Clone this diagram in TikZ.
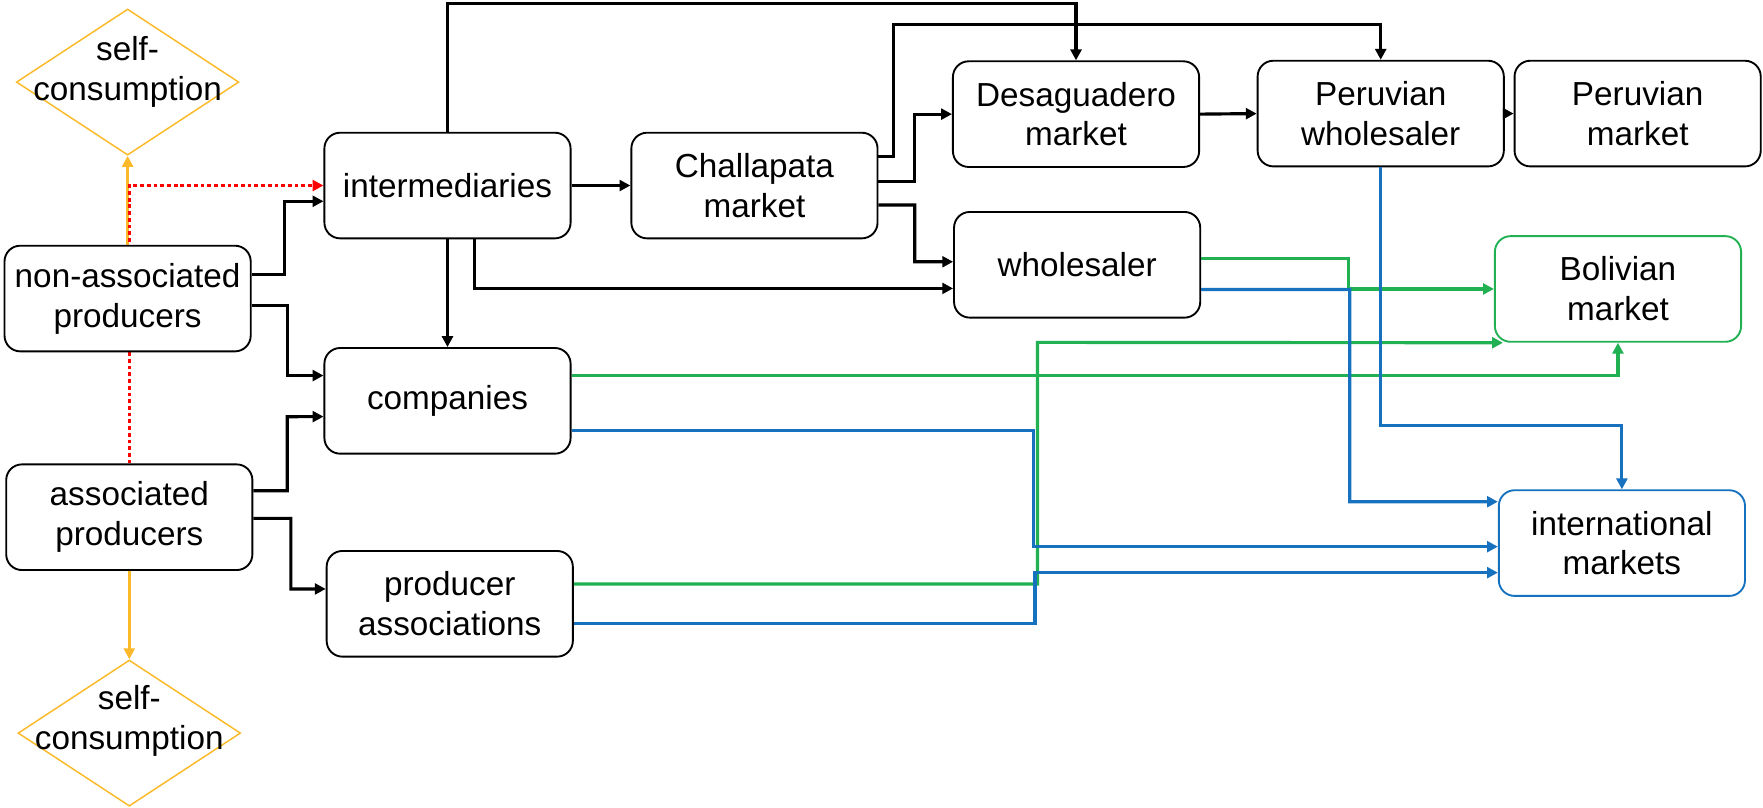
\documentclass[tikz,border=0pt]{standalone}
\usepackage{fontspec}
\setmainfont{Liberation Sans}
\usetikzlibrary{arrows.meta,shapes.geometric,calc}
\definecolor{ora}{RGB}{252,186,43}
\definecolor{grn}{RGB}{33,177,82}
\definecolor{blu}{RGB}{22,113,191}
\definecolor{rd}{RGB}{255,0,0}
\pgfdeclarelayer{bg}
\pgfsetlayers{bg,main}
\begin{document}
\begin{tikzpicture}[x=0.02cm,y=-0.02cm,
  txt/.style={font=\fontsize{16.85}{20.2}\selectfont, align=center, inner sep=0pt},
  box/.style={txt, draw=black, line width=0.95pt, rounded corners=0.28cm, fill=white,
              minimum width=4.38cm, minimum height=1.88cm},
  selfc/.style={draw=ora, line width=0.75pt, diamond, inner sep=0pt,
              minimum width=3.96cm, minimum height=2.6cm},
  tip/.style={-{Triangle[length=5.5pt,width=5.5pt]}},
  blk/.style={tip, draw=black, line width=1.6pt},
  grnl/.style={tip, draw=grn, line width=1.6pt},
  blul/.style={tip, draw=blu, line width=1.6pt},
  oral/.style={tip, draw=ora, line width=1.5pt},
  reddot/.style={tip, draw=rd, line width=1.4pt, dash pattern=on 1.9pt off 1.5pt}]
\useasboundingbox (0,0) rectangle (1568,718);

% diamonds
\node[selfc] (dtop) at (113.5,73) {};
\node[selfc] (dbot) at (115,652) {};
\node[txt] (dtopt) at ($(dtop)+(0,-9)$) {self-\\consumption};
\node[txt] (dbott) at ($(dbot)+(0,-11)$) {self-\\consumption};

% boxes
\node[box] (nonassoc) at (113.5,265.5) {non-associated\\producers};
\node[box] (assoc) at (115,460) {associated\\producers};
\node[box] (interm) at (398,165) {intermediaries};
\node[box] (comp) at (398,356.5) {companies};
\node[box] (pa) at (400,537) {producer\\associations};
\node[box] (chal) at (671,165) {Challapata\\market};
\node[box] (desag) at (957,101.5) {Desaguadero\\market};
\node[box] (whole) at (958,235.5) {wholesaler};
\node[box] (perwh) at (1228,101) {Peruvian\\wholesaler};
\node[box] (permkt) at (1456.5,101) {Peruvian\\market};
\node[box, draw=grn] (bol) at (1439,257) {Bolivian\\market};
\node[box, draw=blu] (intl) at (1442.5,483) {international\\markets};

% connectors behind boxes
\begin{pgfonlayer}{bg}
\draw[oral] (nonassoc.north) -- (dtop.south);
\draw[oral] (assoc.south) -- (dbot.north);
\draw[reddot] (assoc.north) |- (interm.west);
\end{pgfonlayer}

% black connectors
\draw[blk] (interm.east) -- (chal.west);
\draw[blk] ($(nonassoc.east)+(0,-21)$) -| (253,179) -- ($(interm.west)+(0,14)$);
\draw[blk] ($(nonassoc.east)+(0,6.5)$) -| (255.5,334) -- ($(comp.west)+(0,-22.5)$);
\draw[blk] ($(assoc.east)+(0,-23.5)$) -| (255.5,370.6) -- ($(comp.west)+(0,14)$);
\draw[blk] ($(assoc.east)+(0,1)$) -| (258.7,523.8) -- ($(pa.west)+(0,-13.2)$);
\draw[blk] (interm.south) -- (comp.north);
\draw[blk] (interm.north) |- (957,3) -- (desag.north);
\draw[blk] ($(interm.south)+(24,0)$) |- ($(whole.west)+(0,21)$);
\draw[blk] ($(chal.east)+(0,-25.6)$) -| (795,22) -| (perwh.north);
\draw[blk] ($(chal.east)+(0,-3.4)$) -| (813,101.5) -- (desag.west);
\draw[blk] ($(chal.east)+(0,17.3)$) -| (813.6,232.8) -- ($(whole.west)+(0,-2.7)$);
\draw[blk] (desag.east) -- (perwh.west);
\draw[blk] (perwh.east) -- (permkt.west);

% green connectors
\draw[grnl] ($(whole.east)+(0,-5.7)$) -| (1199,257) -- (bol.west);
\draw[grnl] ($(comp.east)+(0,-22.5)$) -| (bol.south);
\draw[grnl] ($(pa.east)+(0,-17.6)$) -| (922.8,304.5) -- ($(bol.south west)+(8,0)$);

% blue connectors
\draw[blul] ($(whole.east)+(0,22)$) -| (1200.5,446.2) -- ($(intl.west)+(0,-36.8)$);
\draw[blul] (perwh.south) |- ($(intl.north)+(0,-57)$) -- (intl.north);
\draw[blul] ($(comp.east)+(0,26)$) -| (919.3,486.2) -- ($(intl.west)+(0,3.2)$);
\draw[blul] ($(pa.east)+(0,17.4)$) -| (920.5,509.3) -- ($(intl.west)+(0,26.3)$);
\end{tikzpicture}
\end{document}
